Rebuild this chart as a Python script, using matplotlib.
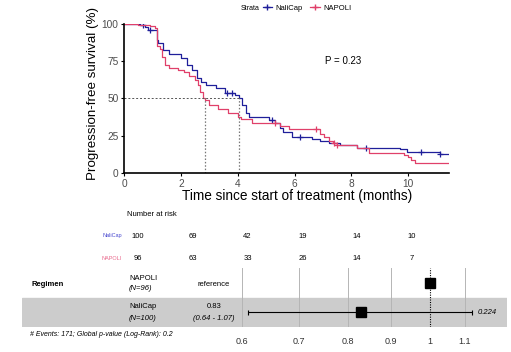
import numpy as np
import matplotlib
matplotlib.use("Agg")
import matplotlib.pyplot as plt
from matplotlib.lines import Line2D

plt.rcParams['font.family'] = ['Liberation Sans', 'DejaVu Sans']

# Kaplan-Meier steps (months, % progression-free)
nalicap_t = [0, 0.55, 0.75, 0.85, 1.15, 1.2, 1.38, 1.6, 2.0, 2.2, 2.4, 2.56, 2.7, 2.9,
             3.25, 3.55, 3.9, 4.05, 4.15, 4.3, 4.4, 5.1, 5.3, 5.5, 5.6, 5.9, 6.6, 6.9,
             7.2, 7.6, 8.2, 9.7, 9.95, 11.1]
nalicap_s = [100, 99, 98, 96, 89, 87, 82.4, 79.5, 76.8, 72.3, 69, 63.4, 61, 59,
             56.7, 53.4, 52, 50, 45.5, 40, 37.5, 35.5, 33.7, 30, 27.7, 24, 22.5, 21.4,
             20.3, 18.8, 17, 15.9, 14.3, 12.9]
nalicap_cens = [0.68, 0.91, 3.62, 3.8, 5.2, 6.2, 8.5, 10.43, 11.1]

napoli_t = [0, 0.5, 0.9, 1.1, 1.15, 1.25, 1.35, 1.45, 1.6, 1.9, 2.1, 2.3, 2.5, 2.6,
            2.67, 2.78, 2.85, 3.0, 3.3, 3.65, 4.0, 4.1, 4.5, 5.5, 5.8, 6.9, 7.05, 7.2,
            7.35, 7.5, 8.18, 8.6, 9.85, 10.0, 10.1, 10.24]
napoli_s = [100, 99.3, 98.5, 97, 85, 83, 78, 72.3, 70.5, 69, 67.4, 65.2, 62.3, 59,
            54.5, 50.5, 48.9, 45.5, 42.7, 40, 37.3, 36, 33.7, 31.5, 29.2, 26, 24, 21.5,
            19.9, 18.8, 17, 13.6, 12, 10.5, 8.5, 6.9]
napoli_cens = [5.3, 6.75, 7.4, 7.5]
t_end = 11.43

median_nalicap = 4.04
median_napoli = 2.85
p_value = 0.23

risk_times = [0, 2, 4, 6, 8, 10]
risk_nalicap = [100, 69, 42, 19, 14, 10]
risk_napoli = [96, 63, 33, 26, 14, 7]

# hazard ratio table
groups = ["NAPOLI", "NaliCap"]
group_n = [96, 100]
hr = [1.0, 0.83]
hr_ci_text = "(0.64 - 1.07)"
ci_drawn = [0.61, 1.12]   # whisker ends as drawn in the picture
hr_p = "0.224"
n_events = 171
global_p = 0.2
forest_ticks = [0.6, 0.7, 0.8, 0.9, 1, 1.1]

blue = "#1f1f9a"
pink = "#e0406a"

W, H = 511, 352
def fx(px):
    return px / W
def fy(py):
    return 1 - py / H

fig = plt.figure(figsize=(W / 100, H / 100), dpi=100)

# --- survival curves ---
ax = fig.add_axes([fx(124), fy(173), 325 / W, (173 - 23.7) / H])
for t, s, cens, col in [(nalicap_t, nalicap_s, nalicap_cens, blue),
                        (napoli_t, napoli_s, napoli_cens, pink)]:
    ax.step(t + [t_end], s + [s[-1]], where='post', color=col, lw=0.9)
    idx = np.searchsorted(t, cens, side='right') - 1
    ax.plot(cens, np.array(s)[idx], '+', color=col, ms=5, mew=0.9, ls='none')

ax.plot([0, median_nalicap], [50, 50], ls=(0, (2, 2)), color='#555555', lw=0.7)
for m in [median_napoli, median_nalicap]:
    ax.plot([m, m], [0, 50], ls=(0, (1.2, 1.5)), color='#777777', lw=0.9)

ax.text(7.7, 75, f"P = {p_value}", fontsize=7, ha='center', va='center')
ax.set_xlim(0, t_end)
ax.set_ylim(0, 100)
ax.set_xticks([0, 2, 4, 6, 8, 10])
ax.set_yticks([0, 25, 50, 75, 100])
ax.tick_params(labelsize=7.3, labelcolor='#4d4d4d', length=2.5, width=0.8, pad=1.5)
for side in ['top', 'right']:
    ax.spines[side].set_visible(False)
for side in ['left', 'bottom']:
    ax.spines[side].set_linewidth(1.2)
ax.set_ylabel("Progression-free survival (%)", fontsize=9.6)
ax.yaxis.set_label_coords(-0.078, 0.53)
ax.set_xlabel("Time since start of treatment (months)", fontsize=9.8)
ax.xaxis.set_label_coords(0.532, -0.155)
ax.xaxis.label.set_va('center')

fig.text(fx(241), fy(8), "Strata", fontsize=5, va='center')
handles = [Line2D([], [], color=blue, marker='+', lw=0.9, ms=5),
           Line2D([], [], color=pink, marker='+', lw=0.9, ms=5)]
fig.legend(handles, ["NaliCap", "NAPOLI"], loc='center', bbox_to_anchor=(fx(307), fy(8)),
           ncol=2, fontsize=5.5, frameon=False, handlelength=1.3, handletextpad=0.4,
           columnspacing=1.0, borderpad=0)

# --- number at risk ---
rax = fig.add_axes([fx(124), fy(268), 325 / W, (268 - 205) / H])
rax.set_xlim((124 - 138) / 27.4, (449 - 138) / 27.4)
rax.set_ylim(268, 205)
rax.axis('off')
rax.text(-0.4, 214, "Number at risk", fontsize=5.5, va='center')
for i, tt in enumerate(risk_times):
    rax.text(tt, 236, str(risk_nalicap[i]), fontsize=5.5, ha='center', va='center')
    rax.text(tt, 258, str(risk_napoli[i]), fontsize=5.5, ha='center', va='center')
fig.text(fx(112), fy(236), "NaliCap", fontsize=4, color='#4a4ad0', ha='center', va='center')
fig.text(fx(112), fy(258), "NAPOLI", fontsize=4, color='#e8668a', ha='center', va='center')

# --- forest plot ---
fax = fig.add_axes([fx(22), fy(327), (507 - 22) / W, (327 - 268) / H])
fax.set_xscale('log')
fax.set_xlim(0.330, 1.233)
fax.set_ylim(0.5, 2.5)
fax.axhspan(0.5, 1.5, color='#cccccc', zorder=0)
for tk in forest_ticks:
    if tk == 1:
        fax.axvline(tk, color='black', ls=(0, (1, 1.2)), lw=0.8, zorder=1)
    else:
        fax.axvline(tk, color='#b5b5b5', lw=0.7, zorder=1)
ypos = [2, 1]
for g in range(len(groups)):
    fax.plot(hr[g], ypos[g], 's', color='black', ms=7.5, zorder=4)
fax.errorbar(hr[1], 1, xerr=[[hr[1] - ci_drawn[0]], [ci_drawn[1] - hr[1]]], fmt='none',
             ecolor='black', elinewidth=0.8, capsize=1.8, capthick=0.8, zorder=3)
fax.set_xticks(forest_ticks)
fax.set_xticklabels([f"{v:g}" for v in forest_ticks])
fax.minorticks_off()
fax.tick_params(axis='x', length=0, labelsize=6.5, labelcolor='#333333', pad=7)
fax.set_yticks([])
for sp in fax.spines.values():
    sp.set_visible(False)

fig.text(fx(32), fy(284), "Regimen", fontsize=5.5, fontweight='bold', va='center')
fig.text(fx(129), fy(279), groups[0], fontsize=5.5, va='center')
fig.text(fx(129), fy(289), f"(N={group_n[0]})", fontsize=5.5, style='italic', va='center')
fig.text(fx(214), fy(284), "reference", fontsize=5.5, ha='center', va='center')
fig.text(fx(129), fy(307), groups[1], fontsize=5.5, va='center')
fig.text(fx(129), fy(318), f"(N={group_n[1]})", fontsize=5.5, style='italic', va='center')
fig.text(fx(214), fy(307), f"{hr[1]:.2f}", fontsize=5.5, ha='center', va='center')
fig.text(fx(214), fy(318), hr_ci_text, fontsize=5.5, style='italic', ha='center', va='center')
fig.text(fx(478), fy(312), hr_p, fontsize=5.5, style='italic', va='center')
fig.text(fx(30), fy(335), f"# Events: {n_events}; Global p-value (Log-Rank): {global_p}",
         fontsize=5, style='italic', va='center')

fig.savefig("out.png", dpi=100)
